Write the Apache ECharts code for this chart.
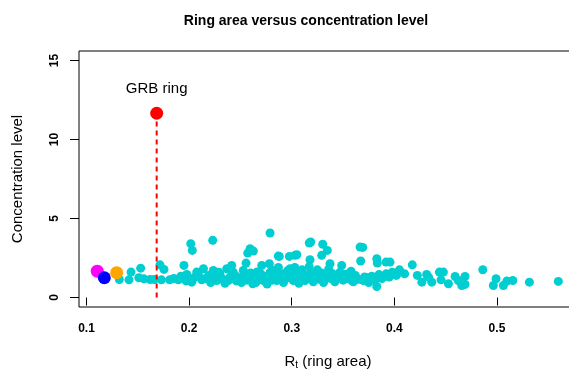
<!DOCTYPE html>
<html>
<head>
<meta charset="utf-8">
<script src="https://cdn.jsdelivr.net/npm/echarts@6/dist/echarts.min.js"></script>
<style>html,body{margin:0;padding:0;background:#fff;overflow:hidden;width:569px;height:375px}#c{width:600px;height:375px}</style>
</head>
<body>
<div id="c"></div>
<script>
// ---- data ----
var ringArea = [
0.132,0.1434,0.1414,0.1528,0.151,0.162,0.166,0.1716,0.1755,0.173,0.181,0.1895,0.195,0.2016,0.2031,0.223,0.1977,0.2025,0.2074,0.2123,
0.214,0.219,0.2236,0.2269,0.2301,0.2367,0.2415,0.2382,0.2447,0.2528,0.2555,0.2571,0.2594,0.2626,0.2577,0.262,0.266,0.2708,0.2723,0.2782,
0.2789,0.2772,0.2821,0.2854,0.2879,0.2903,0.2977,0.2984,0.3032,0.3016,0.308,0.313,0.3171,
0.156,0.185,0.192,0.197,0.205,0.209,0.216,0.221,0.226,0.229,0.233,0.235,0.24,0.243,0.246,0.249,0.251,0.254,0.256,0.26,
0.263,0.265,0.268,0.27,0.274,0.276,0.279,0.281,0.284,0.287,0.289,0.292,0.294,0.296,0.298,0.3,0.303,0.305,0.307,0.31,
0.312,0.315,0.317,0.319,0.321,0.323,0.325,0.327,0.329,0.331,0.333,0.336,0.338,0.34,0.342,0.345,0.347,0.35,0.352,0.355,
0.36,0.362,0.365,0.371,0.375,0.378,0.381,0.385,0.388,0.392,0.395,0.398,0.402,0.405,0.41,
0.3373,0.3487,0.3578,0.3585,0.3698,0.3737,0.3829,0.3552,0.2869,0.305,0.3185,0.3302,0.3347,0.3292,0.3178,0.3666,0.3692,0.3672,0.3829,0.3834,
0.3919,0.3958,0.4175,0.4224,0.4315,0.4365,0.4439,0.4478,0.4455,0.4527,0.4592,0.4624,0.4689,0.4689,0.4657,0.4862,0.4965,0.4991,0.5063,0.5096,
0.5154,0.5316,0.5598,0.4268,0.4334
];
var concentration = [
1.14,1.61,1.12,1.86,1.25,1.14,1.14,2.07,1.78,1.12,1.12,1.12,2.03,3.41,2.98,3.62,1.46,0.97,1.61,1.12,
1.82,1.40,1.71,1.08,1.46,1.82,2.03,1.08,1.40,1.71,2.18,2.81,3.09,2.94,1.29,0.87,1.61,2.03,1.08,2.14,
4.08,1.40,1.71,1.08,2.60,1.50,2.60,1.82,2.67,1.08,1.61,1.08,3.45,
1.18,1.2,1.35,1.05,1.25,1.45,1.2,0.95,1.3,1.6,1.15,0.9,1.3,1.6,1.05,1.25,0.95,1.45,1.1,1.55,
1.3,0.95,1.2,1.5,1.25,0.85,1.6,1.1,1.35,1.9,1.2,0.95,1.45,1.7,1.25,1.5,1.9,1.3,0.9,1.75,
1.45,1.25,1.95,1.6,1.0,1.35,1.75,1.15,1.55,0.95,1.35,1.8,1.2,1.5,1.0,1.3,1.6,1.1,1.45,1.2,
1.0,1.4,1.15,1.3,0.95,1.35,1.1,1.45,1.2,1.5,1.3,1.6,1.4,1.75,1.5,
2.14,2.03,1.67,1.08,1.08,1.25,0.70,1.50,2.62,2.71,3.51,3.37,2.98,2.67,2.39,3.19,3.17,2.31,2.46,2.18,
2.24,2.24,2.07,1.40,1.46,0.97,1.61,1.61,1.12,0.87,1.33,1.08,1.33,0.83,0.76,1.76,0.76,1.19,0.76,1.04,
1.08,0.97,1.02,0.97,1.29
];
var grbRing = [0.1684, 11.66];
var magentaPt = [0.1105, 1.67];
var bluePt = [0.1174, 1.25];
var orangePt = [0.1294, 1.57];
var xTicks = [0.1, 0.2, 0.3, 0.4, 0.5];
var yTicks = [0, 5, 10, 15];

var cyanData = ringArea.map(function (x, i) { return [x, concentration[i]]; });
var FONT = '"Liberation Sans", Arial, Helvetica, sans-serif';

var chart = echarts.init(document.getElementById('c'), null, {renderer: 'canvas'});
chart.setOption({
  animation: false,
  backgroundColor: '#fff',
  textStyle: {fontFamily: FONT},
  title: {
    text: 'Ring area versus concentration level',
    left: 301, top: 9, textAlign: 'center',
    textStyle: {fontFamily: FONT, fontSize: 14, fontWeight: 'bold', color: '#000'}
  },
  grid: {left: 79, top: 51, width: 498, height: 256, show: true, borderColor: '#000', borderWidth: 1, containLabel: false},
  xAxis: {
    type: 'value', min: 0.0927, max: 0.578,
    splitLine: {show: false},
    axisLine: {show: false},
    axisTick: {show: true, length: 8, customValues: xTicks, lineStyle: {color: '#000'}},
    axisLabel: {customValues: xTicks, fontFamily: FONT, fontSize: 12, fontWeight: 'bold', color: '#000', margin: 16,
      formatter: function (v) { return v.toFixed(1); }},
    name: '{r|R}{s|t}{r| (ring area)}',
    nameLocation: 'middle', nameGap: 47,
    nameTextStyle: {rich: {
      r: {fontFamily: FONT, fontSize: 15, color: '#000'},
      s: {fontFamily: FONT, fontSize: 10, color: '#000', verticalAlign: 'bottom', padding: [6, 0, 0, 0]}
    }}
  },
  yAxis: {
    type: 'value', min: -0.6, max: 15.6,
    splitLine: {show: false},
    axisLine: {show: false},
    axisTick: {show: true, length: 9, customValues: yTicks, lineStyle: {color: '#000'}},
    axisLabel: {customValues: yTicks, rotate: 90, fontFamily: FONT, fontSize: 12, fontWeight: 'bold', color: '#000', margin: 18},
    name: 'Concentration level', nameLocation: 'middle', nameGap: 54, nameRotate: 90,
    nameTextStyle: {fontFamily: FONT, fontSize: 15, color: '#000'}
  },
  series: [
    {type: 'scatter', data: cyanData, symbolSize: 9, itemStyle: {color: '#00CED1', opacity: 1}},
    {type: 'line', data: [[grbRing[0], 0], grbRing], symbol: 'none',
      lineStyle: {color: '#FF0000', width: 2, type: [5, 4]}},
    {type: 'scatter', data: [grbRing], symbolSize: 13, itemStyle: {color: '#FF0000', opacity: 1},
      label: {show: true, position: 'top', distance: 10, formatter: 'GRB ring', fontFamily: FONT, fontSize: 15, color: '#000'}},
    {type: 'scatter', data: [magentaPt], symbolSize: 13, itemStyle: {color: '#FF00FF', opacity: 1}},
    {type: 'scatter', data: [orangePt], symbolSize: 13, itemStyle: {color: '#FFA500', opacity: 1}},
    {type: 'scatter', data: [bluePt], symbolSize: 13, itemStyle: {color: '#0000FF', opacity: 1}}
  ]
});
</script>
</body>
</html>
